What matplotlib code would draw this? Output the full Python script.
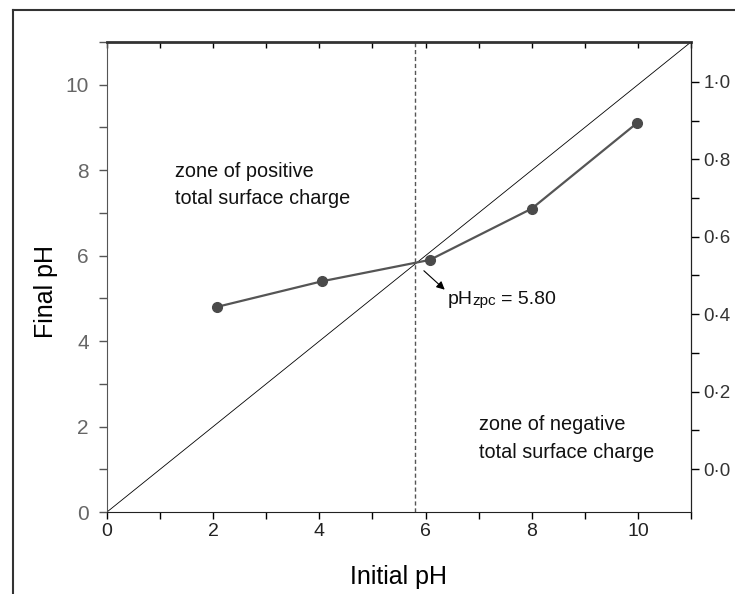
import matplotlib
matplotlib.use("Agg")
import matplotlib.pyplot as plt
from matplotlib.lines import Line2D

plt.rcParams['font.family'] = ['Liberation Sans', 'DejaVu Sans']

initial_ph = [2.07, 4.05, 6.08, 8.0, 9.98]
final_ph = [4.8, 5.4, 5.9, 7.1, 9.1]
ph_zpc = 5.80
x_ticks = [0, 2, 4, 6, 8, 10]
y_ticks = [0, 2, 4, 6, 8, 10]
right_ticks = [0.0, 0.2, 0.4, 0.6, 0.8, 1.0]
right_labels = ["0·0", "0·2", "0·4", "0·6", "0·8", "1·0"]

fig = plt.figure(figsize=(7.35, 5.94), dpi=100)
ax = fig.add_axes([107/735, 1-512/594, (691-107)/735, (512-42)/594])

# figure border lines
fig.add_artist(Line2D([13/735, 13/735], [0, 1-10/594], transform=fig.transFigure, color='#333333', lw=1.5))
fig.add_artist(Line2D([13/735, 1], [1-10/594, 1-10/594], transform=fig.transFigure, color='#333333', lw=1.5))

ax.set_xlim(0, 11)
ax.set_ylim(0, 11)

ax.plot([0, 11], [0, 11], color='black', lw=0.6)
ax.axvline(ph_zpc, color='#555555', lw=1, ls=(0, (3, 2)))
ax.plot(initial_ph, final_ph, color='#555555', lw=1.6, marker='o', ms=7,
        mfc='#4a4a4a', mec='#4a4a4a')

ax.set_xticks(x_ticks)
ax.set_xticks(range(0, 12), minor=True)
ax.set_yticks(y_ticks)
ax.set_yticks(range(0, 12), minor=True)
ax.tick_params(axis='x', which='both', direction='out', length=5, width=1,
               labelsize=14, labelcolor='#222222', pad=3)
ax.tick_params(axis='y', which='both', direction='out', length=6, width=1,
               labelsize=15, labelcolor='#666666', color='#555555', pad=7)
ax.set_xlabel('Initial pH', fontsize=18, labelpad=18)
ax.set_ylabel('Final pH', fontsize=18)
ax.yaxis.set_label_coords(-0.084, 0.47)

ax.spines['top'].set_linewidth(2)
ax.spines['top'].set_color('#333333')
ax.spines['left'].set_color('#555555')
ax.spines['bottom'].set_color('#222222')

# top ticks
axt = ax.secondary_xaxis('top')
axt.set_xticks(range(0, 12))
axt.tick_params(direction='in', length=4, width=1, labeltop=False)
axt.spines['top'].set_visible(False)

# right axis
ax2 = ax.twinx()
ax2.set_ylim(-0.111, 1.103)
ax2.set_yticks(right_ticks)
ax2.set_yticklabels(right_labels)
ax2.set_yticks([0.1, 0.3, 0.5, 0.7, 0.9], minor=True)
ax2.tick_params(axis='y', which='both', direction='out', length=6, width=1,
                labelsize=13.5, labelcolor='#333333', pad=3)
for s in ['left', 'bottom', 'top']:
    ax2.spines[s].set_visible(False)
ax2.spines['right'].set_color('#222222')

ax.text(1.28, 7.66, 'zone of positive\ntotal surface charge', fontsize=14.3,
        va='center', ha='left', linespacing=1.55, color='#111111')
ax.text(7.0, 1.72, 'zone of negative\ntotal surface charge', fontsize=14.3,
        va='center', ha='left', linespacing=1.55, color='#111111')

ax.annotate('', xy=(6.40, 5.16), xytext=(5.93, 5.69),
            arrowprops=dict(arrowstyle='-|>', color='black', lw=0.8, mutation_scale=12))
ax.annotate('pH', xy=(6.42, 4.98), va='center', ha='left', fontsize=14, color='#111111')
ax.annotate('zpc', xy=(6.42, 4.98), xytext=(18, -1.5), textcoords='offset points',
            va='center', ha='left', fontsize=11, color='#111111')
ax.annotate('= 5.80', xy=(6.42, 4.98), xytext=(38, 0), textcoords='offset points',
            va='center', ha='left', fontsize=14, color='#111111')

fig.savefig('out.png', dpi=100)
